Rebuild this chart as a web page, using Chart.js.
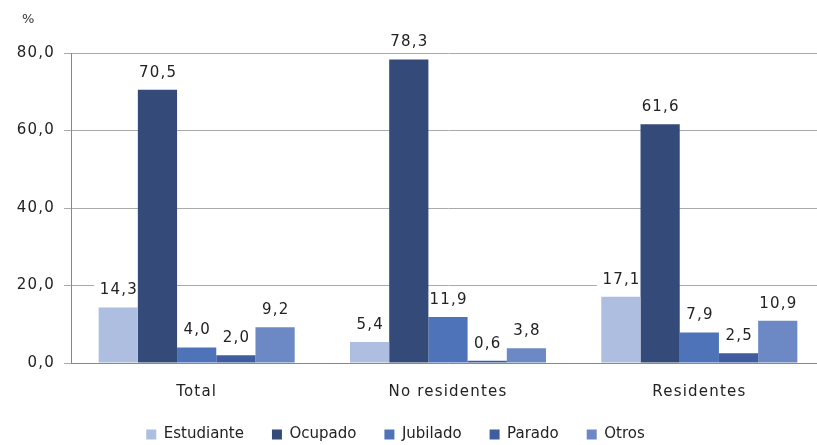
<!DOCTYPE html>
<html>
<head>
<meta charset="utf-8">
<script src="https://cdn.jsdelivr.net/npm/chart.js@4.4.0/dist/chart.umd.min.js"></script>
<style>
  html, body { margin: 0; padding: 0; background: #fff; overflow: hidden; }
  #wrap { width: 825px; height: 445px; position: relative; }
</style>
</head>
<body>
<div id="wrap"><canvas id="chart"></canvas></div>
<script>
// categories and series
const categories = ["Total", "No residentes", "Residentes"];
const estudiante = [14.3, 5.4, 17.1];
const ocupado = [70.5, 78.3, 61.6];
const jubilado = [4.0, 11.9, 7.9];
const parado = [2.0, 0.6, 2.5];
const otros = [9.2, 3.8, 10.9];
const seriesNames = ["Estudiante", "Ocupado", "Jubilado", "Parado", "Otros"];
const seriesColors = ["#aebee0", "#344a78", "#4f73b9", "#3f5c9f", "#6c89c5"];

const fmt = v => v.toFixed(1).replace(".", ",");
const FONT = "'DejaVu Sans', Verdana, sans-serif";
const SPACING = "1.2px";

// legend height fix + letter spacing for axis text (legend stays normal)
const layoutPlugin = {
  id: "layoutFix",
  beforeLayout(chart) {
    const lg = chart.legend;
    if (lg && !lg._patched) {
      const fit = lg.fit.bind(lg);
      lg.fit = function () { fit(); this.height = 46; };
      const draw = lg.draw.bind(lg);
      lg.draw = function () {
        const ctx = this.ctx;
        ctx.save();
        ctx.letterSpacing = "0px";
        ctx.translate(-17, 0);
        draw();
        ctx.restore();
      };
      lg._patched = true;
    }
  },
  beforeDraw(chart) {
    chart.ctx.letterSpacing = SPACING;
  }
};

// value labels with white box behind them (bars drawn over), plus the % unit
const labelPlugin = {
  id: "labels",
  beforeDatasetsDraw(chart) {
    const ctx = chart.ctx;
    ctx.save();
    ctx.letterSpacing = SPACING;
    ctx.font = "15px " + FONT;
    ctx.textAlign = "center";
    ctx.textBaseline = "middle";
    chart.data.datasets.forEach((ds, i) => {
      chart.getDatasetMeta(i).data.forEach((bar, j) => {
        const txt = fmt(ds.data[j]);
        const y = bar.y - 17;
        const w = ctx.measureText(txt).width + 10;
        ctx.fillStyle = "#fff";
        ctx.fillRect(bar.x - w / 2, y - 9, w, 18);
        ctx.fillStyle = "#222";
        ctx.fillText(txt, bar.x + 0.6, y);
      });
    });
    ctx.letterSpacing = "0px";
    ctx.font = "13px " + FONT;
    ctx.textAlign = "left";
    ctx.fillStyle = "#333";
    ctx.fillText("%", 22, 20);
    ctx.restore();
  }
};

new Chart(document.getElementById("chart"), {
  type: "bar",
  data: {
    labels: categories,
    datasets: [estudiante, ocupado, jubilado, parado, otros].map((d, i) => ({
      label: seriesNames[i],
      data: d,
      backgroundColor: seriesColors[i],
      categoryPercentage: 0.78,
      barPercentage: 1.0
    }))
  },
  options: {
    responsive: true,
    maintainAspectRatio: false,
    animation: false,
    layout: { padding: { top: 53, right: 0, left: 0, bottom: 0 } },
    plugins: {
      tooltip: { enabled: false },
      legend: {
        position: "bottom",
        labels: {
          font: { size: 15, family: FONT },
          color: "#222",
          boxWidth: 10,
          boxHeight: 10,
          padding: 28
        }
      }
    },
    scales: {
      x: {
        afterFit: s => { s.height = 36; },
        grid: { display: false, drawTicks: false },
        border: { color: "#888" },
        ticks: { font: { size: 15, family: FONT }, color: "#222", padding: 20 }
      },
      y: {
        min: 0,
        max: 80,
        afterFit: s => { s.width = 71; },
        grid: { color: "#aaa", tickLength: 7 },
        border: { color: "#888" },
        ticks: {
          stepSize: 20,
          font: { size: 15, family: FONT },
          color: "#222",
          padding: 9,
          callback: v => fmt(v)
        }
      }
    }
  },
  plugins: [layoutPlugin, labelPlugin]
});
</script>
</body>
</html>
